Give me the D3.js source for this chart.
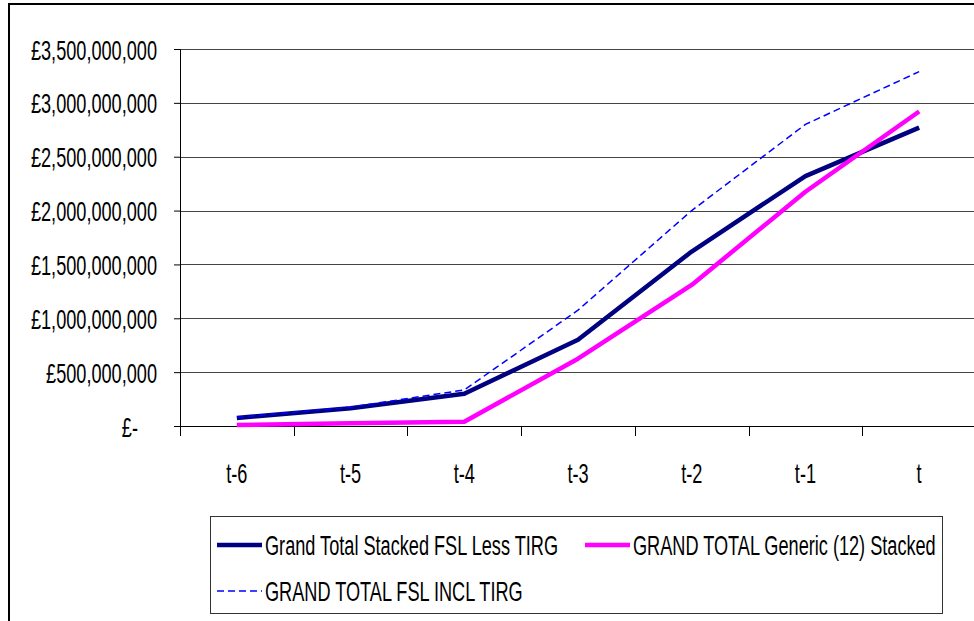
<!DOCTYPE html>
<html>
<head>
<meta charset="utf-8">
<script src="https://cdn.jsdelivr.net/npm/d3@7"></script>
<style>
  body { margin: 0; background: #fff; }
  text { font-family: "Liberation Sans", Arial, sans-serif; font-size: 27.5px; fill: #000; }
</style>
</head>
<body>
<div id="chart"></div>
<script>
// data
var categories = ["t-6", "t-5", "t-4", "t-3", "t-2", "t-1", "t"];
var fslLessTirg = [75e6, 165e6, 300e6, 800e6, 1620e6, 2320e6, 2770e6];
var genericStacked = [10e6, 25e6, 40e6, 625e6, 1310e6, 2175e6, 2920e6];
var fslInclTirg = [80e6, 175e6, 335e6, 1075e6, 2000e6, 2800e6, 3290e6];
var yTicks = [0, 5e8, 1e9, 1.5e9, 2e9, 2.5e9, 3e9, 3.5e9];
var seriesNames = ["Grand Total Stacked FSL Less TIRG", "GRAND TOTAL Generic (12) Stacked", "GRAND TOTAL FSL INCL TIRG"];

var svgWidth = 974;
var svgHeight = 621;
var margin = { top: 49, left: 180 };
var width = 796;
var height = 377;
var squeeze = 0.66; // condensed look of the original font

var svg = d3.select("#chart")
  .append("svg")
  .attr("width", svgWidth)
  .attr("height", svgHeight);

// outer chart border
svg.append("rect")
  .attr("x", 9).attr("y", 4)
  .attr("width", 1000).attr("height", 700)
  .attr("fill", "none")
  .attr("stroke", "#000")
  .attr("stroke-width", 2);

var chartGroup = svg.append("g")
  .attr("transform", `translate(${margin.left}, ${margin.top})`);

var xBand = d3.scaleBand().domain(categories).range([0, width]);
var yLinearScale = d3.scaleLinear().domain([0, 3.5e9]).range([height, 0]);

// gridlines
chartGroup.append("g")
  .selectAll("line")
  .data(yTicks.slice(1))
  .enter()
  .append("line")
  .attr("x1", 0).attr("x2", width)
  .attr("y1", d => Math.round(yLinearScale(d)) + 0.5)
  .attr("y2", d => Math.round(yLinearScale(d)) + 0.5)
  .attr("stroke", "#444")
  .attr("stroke-width", 1);

// y axis
var leftAxis = d3.axisLeft(yLinearScale).tickValues(yTicks).tickSize(6).tickFormat("");
var yAxisG = chartGroup.append("g").call(leftAxis);
yAxisG.select(".domain").attr("d", `M0.5,0V${height}`);

var fmt = d3.format(",");
chartGroup.append("g")
  .selectAll("text")
  .data(yTicks)
  .enter()
  .append("text")
  .attr("text-anchor", "end")
  .attr("dy", "0.35em")
  .attr("transform", d => `translate(${d === 0 ? -42 : -23}, ${yLinearScale(d) + 1}) scale(${squeeze},1)`)
  .text(d => d === 0 ? "£-" : "£" + fmt(d));

// x axis: ticks at category boundaries
var boundaries = categories.map(c => xBand(c)).concat([width]);
var xAxisG = chartGroup.append("g")
  .attr("transform", `translate(0, ${height})`);
xAxisG.append("line")
  .attr("x1", 0).attr("x2", width)
  .attr("y1", 0.5).attr("y2", 0.5)
  .attr("stroke", "#000");
xAxisG.selectAll(".tick")
  .data(boundaries)
  .enter()
  .append("line")
  .attr("x1", d => Math.round(d) + 0.5).attr("x2", d => Math.round(d) + 0.5)
  .attr("y1", 0).attr("y2", 10)
  .attr("stroke", "#000");
xAxisG.selectAll("text")
  .data(categories)
  .enter()
  .append("text")
  .attr("text-anchor", "middle")
  .attr("dy", "0.35em")
  .attr("transform", d => `translate(${xBand(d) + xBand.bandwidth() / 2}, 47) scale(${squeeze},1)`)
  .text(d => d);

// lines
var line = d3.line()
  .x((d, i) => xBand(categories[i]) + xBand.bandwidth() / 2)
  .y(d => yLinearScale(d));

var styles = [
  { data: fslLessTirg, color: "#000080", width: 4.5, dash: null },
  { data: genericStacked, color: "#ff00ff", width: 4.5, dash: null },
  { data: fslInclTirg, color: "#0000ff", width: 1.5, dash: "7,4" }
];

styles.forEach(function(s) {
  chartGroup.append("path")
    .datum(s.data)
    .attr("d", line)
    .attr("fill", "none")
    .attr("stroke", s.color)
    .attr("stroke-width", s.width)
    .attr("stroke-dasharray", s.dash)
    .attr("stroke-linejoin", "round");
});

// legend
var legend = svg.append("g");
legend.append("rect")
  .attr("x", 210.5).attr("y", 516.5)
  .attr("width", 732).attr("height", 97)
  .attr("fill", "#fff")
  .attr("stroke", "#333")
  .attr("stroke-width", 1);

var legendPos = [[217, 545], [585, 545], [217, 591]];
styles.forEach(function(s, i) {
  var g = legend.append("g")
    .attr("transform", `translate(${legendPos[i][0]}, ${legendPos[i][1]})`);
  g.append("line")
    .attr("x1", 0).attr("x2", 45)
    .attr("y1", 0).attr("y2", 0)
    .attr("stroke", s.color)
    .attr("stroke-width", s.width)
    .attr("stroke-dasharray", s.dash);
  g.append("text")
    .attr("dy", "0.35em")
    .attr("transform", `translate(48, 0) scale(${squeeze},1)`)
    .text(seriesNames[i]);
});
</script>
</body>
</html>
